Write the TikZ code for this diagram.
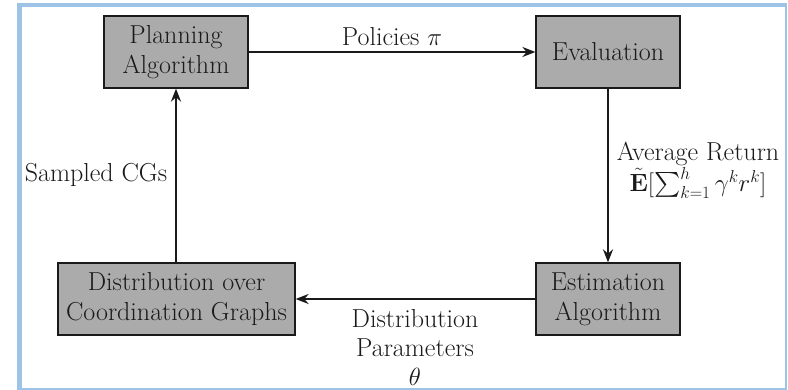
\documentclass[tikz,border=0pt]{standalone}
\usepackage{exscale}
\usetikzlibrary{arrows.meta}
\definecolor{frameblue}{HTML}{9DC3E6}
\definecolor{boxgray}{HTML}{ABABAB}
\definecolor{ink}{HTML}{1A1A1A}
\begin{document}
\begin{tikzpicture}[x=1pt,y=-1pt,
  box/.style={draw=ink, line width=1.2pt, fill=boxgray, minimum height=72pt, align=center, inner sep=0pt, text=ink, font=\fontsize{26}{30}\selectfont},
  conn/.style={draw=ink, line width=2pt, -{Stealth[length=13pt,width=10pt]}},
  lbl/.style={font=\fontsize{26}{29}\selectfont, align=center, inner sep=0pt, text=ink}]
\useasboundingbox (0,0) rectangle (788,390);
\fill[white] (0,0) rectangle (788,390);
\fill[frameblue] (17,3) rectangle (22,390);
\fill[frameblue] (17,3) rectangle (786.5,7);
\fill[frameblue] (784.5,3) rectangle (786.5,390);
\fill[frameblue] (17,388) rectangle (786.5,390);
\node[box, minimum width=144pt] (plan) at (176,52) {Planning\\Algorithm};
\node[box, minimum width=144pt] (eval) at (608,52) {Evaluation};
\node[box, minimum width=237pt] (dist) at (176.5,299) {Distribution over\\Coordination Graphs};
\node[box, minimum width=144pt] (est) at (608,299) {Estimation\\Algorithm};
\draw[conn] (plan.east) -- (eval.west);
\draw[conn] (eval.south) -- (est.north);
\draw[conn] (est.west) -- (dist.east);
\draw[conn] (dist.north -| plan.south) -- (plan.south);
\node[lbl] (pol) at (392,37) {Policies $\pi$};
\node[lbl] (avg) at (698,154) {Average Return};
\node[lbl, anchor=north] (ret) at ([yshift=-1pt]avg.south) {$\tilde{\mathbf{E}}[\sum_{k=1}^{h}\gamma^k r^k]$};
\node[lbl] (samp) at (96,175) {Sampled CGs};
\node[lbl] (dpar) at (415,347) {Distribution\\Parameters\\$\theta$};
\end{tikzpicture}
\end{document}
